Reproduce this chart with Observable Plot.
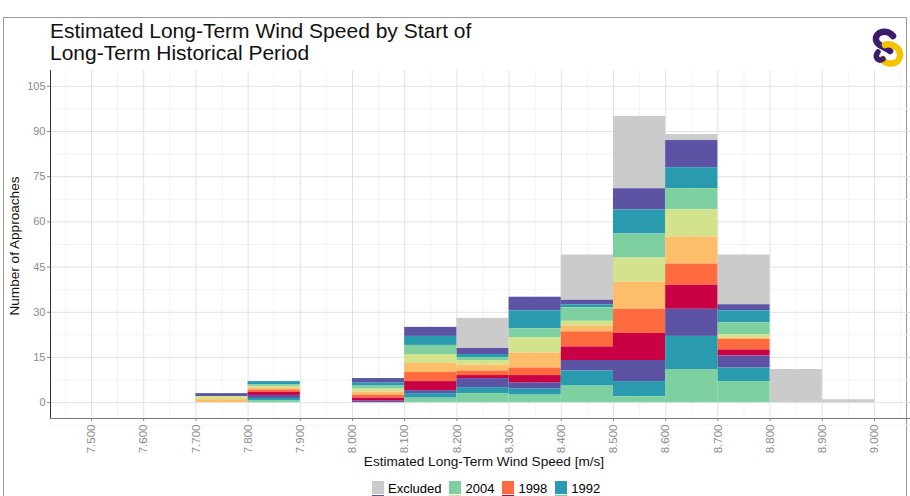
<!DOCTYPE html>
<html>
<head>
<meta charset="utf-8">
<script src="https://cdn.jsdelivr.net/npm/d3@7"></script>
<script src="https://cdn.jsdelivr.net/npm/@observablehq/plot@0.6"></script>
<style>
  html, body { margin: 0; padding: 0; background: #fff; overflow: hidden; width: 910px; height: 496px; }
  body { font-family: "Liberation Sans", Arial, sans-serif; position: relative; }
  #frame { position: absolute; left: 3px; top: 17px; width: 904px; height: 500px; border: 1px solid #9a9a9a; box-sizing: border-box; }
  #title { position: absolute; left: 50px; top: 20px; font-size: 21px; line-height: 22px; color: #111; }
  #chart { position: absolute; left: 0; top: 64px; }
  #ytitle { position: absolute; left: 14px; top: 246px; transform: translate(-50%, -50%) rotate(-90deg); font-size: 13.6px; white-space: nowrap; color: #111; }
  #xtitle { position: absolute; left: 484px; top: 454px; transform: translateX(-50%); font-size: 13.6px; white-space: nowrap; color: #111; }
  #legend { position: absolute; left: 372px; top: 481px; display: grid; grid-auto-flow: column; grid-template-rows: repeat(3, 14px); column-gap: 8px; row-gap: 0px; font-size: 13px; }
  .item { display: flex; align-items: flex-start; height: 14px; }
  .sw { width: 12px; height: 13px; margin-right: 4px; flex: none; }
  .lab { line-height: 13px; padding-top: 1px; }
  .hidden .lab { visibility: hidden; }
  #logo { position: absolute; left: 866px; top: 26px; }
</style>
</head>
<body>
<div id="frame"></div>
<div id="title">Estimated Long-Term Wind Speed by Start of<br>Long-Term Historical Period</div>
<svg id="logo" width="44" height="44" viewBox="0 0 44 44">
  <path d="M27 10 C22 3, 9 5, 10 14 C11 20, 20 21, 24 25" fill="none" stroke="#3b1c6b" stroke-width="6.5" stroke-linecap="round"/>
  <path d="M19 19 C23 17, 35 20, 34 30 C33 39, 20 40, 16 33" fill="none" stroke="#f3c300" stroke-width="6.5" stroke-linecap="round"/>
  <path d="M12 26 C8 31, 12 36, 17 33" fill="none" stroke="#3b1c6b" stroke-width="5.5" stroke-linecap="round"/>
</svg>
<div id="chart"></div>
<div id="ytitle">Number of Approaches</div>
<div id="xtitle">Estimated Long-Term Wind Speed [m/s]</div>
<div id="legend"></div>
<script>
// ---- data ----
const binStarts = [7.7, 7.8, 7.9, 8.0, 8.1, 8.2, 8.3, 8.4, 8.5, 8.6, 8.7, 8.8, 8.9];
const binWidth = 0.1;

const counts1990 = [0, 0.7, 0, 0,   1.5, 3,   2.5, 5.5, 2, 11, 7,   0, 0];
const counts1992 = [0, 0.7, 0, 0,   1.5, 2,   2,   5,   5, 11, 4.5, 0, 0];
const counts1994 = [0, 1,   0, 0.5, 1,   3,   2,   3.5, 7, 9,  4,   0, 0];
const counts1996 = [0, 1,   0, 1,   3,   1,   2.5, 4.5, 9, 8,  2,   0, 0];
const counts1998 = [0, 0.8, 0, 1,   3,   1.5, 2.5, 5,   8, 7,  3.5, 0, 0];
const counts2000 = [1, 0.6, 0, 1,   3,   2,   5,   2,   9, 9,  0.5, 0, 0];
const counts2002 = [1, 0.6, 0, 1,   3,   1.5, 5,   1.5, 8, 9,  1,   0, 0];
const counts2004 = [0, 0.6, 0, 1,   3,   1,   3,   4.5, 8, 7,  4,   0, 0];
const counts2006 = [0, 1,   0, 1,   3,   1,   6,   1,   8, 7,  4,   0, 0];
const counts2008 = [1, 0,   0, 1.5, 3,   2,   4.5, 1.5, 7, 9,  2,   0, 0];
const countsExcluded = [0, 0, 0, 0, 0, 10, 0, 15, 24, 2, 16.5, 11, 1];

// legend order (top of stack first)
const levels = ["Excluded", "2008", "2006", "2004", "2002", "2000", "1998", "1996", "1994", "1992", "1990"];
const levelColors = ["#cbcbcb", "#5c53a5", "#2a9aaf", "#7fd0a0", "#d3e38c", "#febe69", "#fe6b3f", "#c90044", "#5c53a5", "#2a9aaf", "#7fd0a0"];
const seriesByLevel = {
  "Excluded": countsExcluded, "2008": counts2008, "2006": counts2006, "2004": counts2004,
  "2002": counts2002, "2000": counts2000, "1998": counts1998, "1996": counts1996,
  "1994": counts1994, "1992": counts1992, "1990": counts1990
};

const xTicks = [7.5, 7.6, 7.7, 7.8, 7.9, 8.0, 8.1, 8.2, 8.3, 8.4, 8.5, 8.6, 8.7, 8.8, 8.9, 9.0];
const xMinor = [7.45, 7.55, 7.65, 7.75, 7.85, 7.95, 8.05, 8.15, 8.25, 8.35, 8.45, 8.55, 8.65, 8.75, 8.85, 8.95, 9.05];
const yTicks = [0, 15, 30, 45, 60, 75, 90, 105];
const yMinor = [-7.5, 7.5, 22.5, 37.5, 52.5, 67.5, 82.5, 97.5];
const xDomain = [7.4215, 9.069];
const yDomain = [-5.25, 110.25];

// ---- table ----
const table = [];
for (const lv of levels) {
  seriesByLevel[lv].forEach((c, i) => {
    table.push({level: lv, x1: binStarts[i], x2: binStarts[i] + binWidth, count: c});
  });
}
const stackOrder = levels.slice().reverse(); // bottom first

const chart = Plot.plot({
  width: 910,
  height: 410,
  marginLeft: 50,
  marginRight: 0,
  marginTop: 6,
  marginBottom: 56,
  style: {fontFamily: "'Liberation Sans', Arial, sans-serif", background: "transparent", overflow: "visible"},
  x: {domain: xDomain},
  y: {domain: yDomain},
  color: {domain: levels, range: levelColors},
  marks: [
    Plot.gridX(xMinor, {stroke: "#f3f3f3", strokeOpacity: 1, strokeWidth: 1}),
    Plot.gridY(yMinor, {stroke: "#f3f3f3", strokeOpacity: 1, strokeWidth: 1}),
    Plot.gridX(xTicks, {stroke: "#e2e2e2", strokeOpacity: 1, strokeWidth: 1}),
    Plot.gridY(yTicks, {stroke: "#e2e2e2", strokeOpacity: 1, strokeWidth: 1}),
    Plot.rectY(table, {x1: "x1", x2: "x2", y: "count", fill: "level", z: "level", order: stackOrder}),
    Plot.ruleX([xDomain[0]], {stroke: "#333"}),
    Plot.ruleY([yDomain[0]], {stroke: "#777"}),
    Plot.axisY(yTicks, {tickSize: 3, tickPadding: 2, label: null, fontSize: 11, color: "#8a8a8a", stroke: "#8a8a8a"}),
    Plot.axisX(xTicks, {tickSize: 3, tickPadding: 3, tickRotate: -90, tickFormat: d3.format(".3f"), label: null, fontSize: 11.5, color: "#8a8a8a", stroke: "#8a8a8a"})
  ]
});
document.getElementById("chart").appendChild(chart);

// ---- legend (3 rows, filled column by column; rows below the first fall off the page) ----
const legend = document.getElementById("legend");
levels.forEach((lv, i) => {
  const it = document.createElement("div");
  it.className = "item" + (i % 3 === 0 ? "" : " hidden");
  const sw = document.createElement("span");
  sw.className = "sw";
  sw.style.background = levelColors[i];
  const tx = document.createElement("span");
  tx.className = "lab";
  tx.textContent = lv;
  it.appendChild(sw);
  it.appendChild(tx);
  legend.appendChild(it);
});
</script>
</body>
</html>
